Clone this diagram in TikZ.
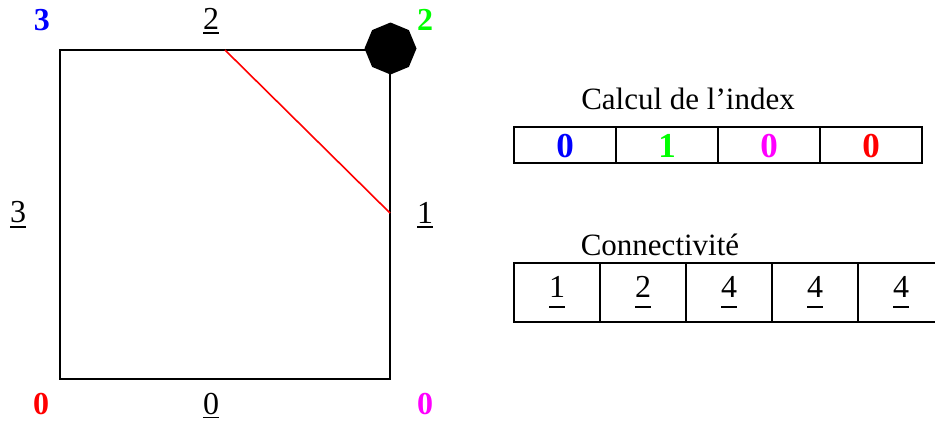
\documentclass[tikz,border=0pt]{standalone}
\usepackage{fontspec}
\setmainfont{Liberation Serif}
\usetikzlibrary{positioning,shapes.geometric}
\definecolor{vblue}{HTML}{0000FF}
\definecolor{vgreen}{HTML}{00FF00}
\definecolor{vmagenta}{HTML}{FF00FF}
\definecolor{vred}{HTML}{FF0000}
% underlined number, rule set #1 below the baseline
\newcommand{\ulnum}[2][3pt]{\vtop{\hbox{#2}\kern#1\hrule height 1.6pt}}
\tikzset{
  edgelab/.style={anchor=base, inner sep=0pt, font=\fontsize{32}{38}\selectfont},
  cornerlab/.style={anchor=base, inner sep=0pt, font=\fontsize{32}{38}\selectfont\bfseries},
  title/.style={inner sep=0pt, font=\fontsize{31}{36}\selectfont},
  frame/.style={draw, line width=1.8pt, line join=miter},
  isoline/.style={draw=vred, line width=1.6pt},
  vertex/.style={regular polygon, regular polygon sides=8, shape border rotate=22.5,
                 fill=black, minimum size=52pt, inner sep=0pt},
  idxcell/.style={draw, line width=1.8pt, minimum width=102pt, minimum height=36pt,
                  inner sep=0pt, outer sep=0pt, text height=24pt, text depth=0pt,
                  font=\fontsize{35}{40}\selectfont\bfseries},
  concell/.style={draw, line width=1.8pt, minimum width=86pt, minimum height=59pt,
                  inner sep=0pt, outer sep=0pt, text height=22pt, text depth=13pt,
                  font=\fontsize{32}{38}\selectfont},
}
\begin{document}
\begin{tikzpicture}[x=1pt,y=-1pt]
\clip (0,0) rectangle (935,421);
\useasboundingbox (0,0) rectangle (935,421);
% left: the cell
\coordinate (sw) at (60,379);
\coordinate (se) at (390,379);
\coordinate (ne) at (390,50);
\coordinate (nw) at (60,50);
\coordinate (p2) at (225,50);
\coordinate (p1) at (390,213);
\draw[frame] (sw) -- (se) -- (ne) -- (nw) -- cycle;
\draw[isoline] (p2) -- (p1);
\node[vertex] (v2) at (390.5,48.5) {};
% corner values
\node[cornerlab, text=vblue] (c3) at (42,30) {3};
\node[cornerlab, text=vgreen] (c2) at (425,30) {2};
\node[cornerlab, text=vred] (c0) at (41,414) {0};
\node[cornerlab, text=vmagenta] (c1) at (425,414) {0};
% edge numbers
\node[edgelab] (e2) at (211,29) {\ulnum{2}};
\node[edgelab] (e3) at (18,222) {\ulnum[4pt]{3}};
\node[edgelab] (e1) at (425,223) {\ulnum[3pt]{1}};
\node[edgelab] (e0) at (211,414) {\ulnum[2.5pt]{0}};
% right: the tables
\node[title] (tidx) at (688,99) {Calcul de l’index};
\node[idxcell, text=vblue] (i1) at (565,145) {0};
\node[idxcell, text=vgreen, right=0pt of i1] (i2) {1};
\node[idxcell, text=vmagenta, right=0pt of i2] (i3) {0};
\node[idxcell, text=vred, right=0pt of i3] (i4) {0};
\node[title] (tcon) at (660,245) {Connectivité};
\node[concell] (k1) at (557,292.5) {\ulnum[9pt]{1}};
\node[concell, right=0pt of k1] (k2) {\ulnum[9pt]{2}};
\node[concell, right=0pt of k2] (k3) {\ulnum[9pt]{4}};
\node[concell, right=0pt of k3] (k4) {\ulnum[9pt]{4}};
\node[concell, right=0pt of k4] (k5) {\ulnum[9pt]{4}};
\end{tikzpicture}
\end{document}
